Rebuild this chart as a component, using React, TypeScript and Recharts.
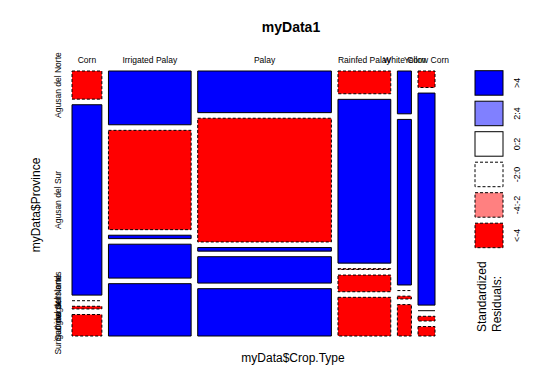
import {
  ComposedChart,
  XAxis,
  YAxis,
  Scatter,
  ReferenceArea,
  ReferenceLine,
} from "recharts";

const crops = ["Corn", "Irrigated Palay", "Palay", "Rainfed Palay", "White Corn", "Yellow Corn"];
const provinces = [
  "Agusan del Norte",
  "Agusan del Sur",
  "Dinagat Islands",
  "Surigao del Norte",
  "Surigao del Sur",
];

// counts per province, one value per crop (same order as crops)
const agusanNorte = [21, 111, 139, 30, 15, 7];
const agusanSur = [142, 205, 413, 216, 58, 90];
const dinagat = [0, 7, 12, 1, 0, 0];
const surigaoNorte = [2, 70, 88, 22, 1, 2];
const surigaoSur = [16, 108, 158, 51, 11, 4];

// standardized residual class for each cell
const resAgusanNorte = ["<-4", ">4", ">4", "<-4", ">4", "<-4"];
const resAgusanSur = [">4", "<-4", "<-4", ">4", ">4", ">4"];
const resDinagat = ["-2:0", ">4", ">4", "<-4", "-2:0", "0:2"];
const resSurigaoNorte = ["<-4", ">4", ">4", "<-4", "<-4", "<-4"];
const resSurigaoSur = ["<-4", ">4", ">4", "<-4", "<-4", "<-4"];

const legendClasses = [">4", "2:4", "0:2", "-2:0", "-4:-2", "<-4"];

const counts = [agusanNorte, agusanSur, dinagat, surigaoNorte, surigaoSur];
const residuals = [resAgusanNorte, resAgusanSur, resDinagat, resSurigaoNorte, resSurigaoSur];

const styleFor: Record<string, { fill: string; dash?: string }> = {
  ">4": { fill: "#0000FF" },
  "2:4": { fill: "#8080FF" },
  "0:2": { fill: "#FFFFFF" },
  "-2:0": { fill: "#FFFFFF", dash: "3 2" },
  "-4:-2": { fill: "#FF8080", dash: "3 2" },
  "<-4": { fill: "#FF0000", dash: "3 2" },
};

const GAP_X = 40;
const GAP_Y = 0.023;

const colTotals = crops.map((_, i) => counts.reduce((s, row) => s + row[i], 0));
const grand = colTotals.reduce((a, b) => a + b, 0);
const xMax = grand + GAP_X * (crops.length - 1);
const yMax = 1 + GAP_Y * (provinces.length - 1);

type Cell = {
  x1: number;
  x2: number;
  y1: number;
  y2: number;
  cx: number;
  cy: number;
  count: number;
  res: string;
};
const cells: Cell[] = [];
const colCenters: number[] = [];
const rowCenters: number[] = [];
let px = 0;
crops.forEach((_, i) => {
  const x1 = px;
  const x2 = px + colTotals[i];
  colCenters.push((x1 + x2) / 2);
  let py = 0;
  provinces.forEach((_, j) => {
    const h = counts[j][i] / colTotals[i];
    const y1 = py + j * GAP_Y;
    const y2 = y1 + h;
    cells.push({
      x1,
      x2,
      y1,
      y2,
      cx: (x1 + x2) / 2,
      cy: (y1 + y2) / 2,
      count: counts[j][i],
      res: residuals[j][i],
    });
    if (i === 0) rowCenters.push((y1 + y2) / 2);
    py += h;
  });
  px = x2 + GAP_X;
});

const font = "'Liberation Sans', Arial, sans-serif";

const ColTick = (p: any) => (
  <text x={p.x} y={63} textAnchor="middle" fontSize={8.5} fontFamily={font} fill="#000">
    {crops[p.index]}
  </text>
);

const RowTick = (p: any) => (
  <text
    x={61}
    y={p.y}
    transform={`rotate(-90 61 ${p.y})`}
    textAnchor="middle"
    fontSize={8.5}
    fontFamily={font}
    fill="#000"
  >
    {provinces[p.index]}
  </text>
);

const App = () => {
  return (
    <div style={{ position: "absolute", left: 0, top: 0, width: 540, height: 390, background: "#fff" }}>
      <ComposedChart
        width={540}
        height={390}
        margin={{ top: 59, right: 105, left: 60, bottom: 54 }}
      >
        <XAxis
          xAxisId={0}
          dataKey="cx"
          type="number"
          orientation="top"
          domain={[0, xMax]}
          ticks={colCenters}
          interval={0}
          height={12}
          axisLine={false}
          tickLine={false}
          tick={<ColTick />}
        />
        <YAxis
          yAxisId={0}
          dataKey="cy"
          type="number"
          reversed
          domain={[0, yMax]}
          ticks={rowCenters}
          interval={0}
          width={12}
          axisLine={false}
          tickLine={false}
          tick={<RowTick />}
        />
        {cells.map((c, k) => {
          const st = styleFor[c.res];
          if (c.count === 0) {
            return (
              <ReferenceLine
                key={k}
                segment={[
                  { x: c.x1, y: c.y1 },
                  { x: c.x2, y: c.y1 },
                ]}
                stroke="#000"
                strokeDasharray={st.dash}
              />
            );
          }
          return (
            <ReferenceArea
              key={k}
              x1={c.x1}
              x2={c.x2}
              y1={c.y1}
              y2={c.y2}
              fill={st.fill}
              fillOpacity={1}
              stroke="#000"
              strokeWidth={1}
              strokeDasharray={st.dash}
            />
          );
        })}
        <Scatter data={cells} dataKey="cy" shape={() => <g />} isAnimationActive={false} />
      </ComposedChart>
      <svg
        width={540}
        height={390}
        style={{ position: "absolute", left: 0, top: 0, pointerEvents: "none" }}
        fontFamily={font}
      >
        <text x={291} y={32} textAnchor="middle" fontSize={14} fontWeight="bold">
          myData1
        </text>
        <text x={293} y={362} textAnchor="middle" fontSize={12}>
          myData$Crop.Type
        </text>
        <text x={40} y={205} transform="rotate(-90 40 205)" textAnchor="middle" fontSize={12}>
          myData$Province
        </text>
        {legendClasses.map((r, i) => {
          const st = styleFor[r];
          const y = 70.7 + i * 30.5;
          return (
            <g key={r}>
              <rect x={475} y={y} width={28} height={24.5} fill={st.fill} stroke="#000" strokeDasharray={st.dash} />
              <text
                x={520}
                y={y + 12.25}
                transform={`rotate(-90 520 ${y + 12.25})`}
                textAnchor="middle"
                fontSize={9}
              >
                {r}
              </text>
            </g>
          );
        })}
        <text x={486} y={332} transform="rotate(-90 486 332)" fontSize={12}>
          Standardized
        </text>
        <text x={501} y={332} transform="rotate(-90 501 332)" fontSize={12}>
          Residuals:
        </text>
      </svg>
    </div>
  );
};

export default App;
